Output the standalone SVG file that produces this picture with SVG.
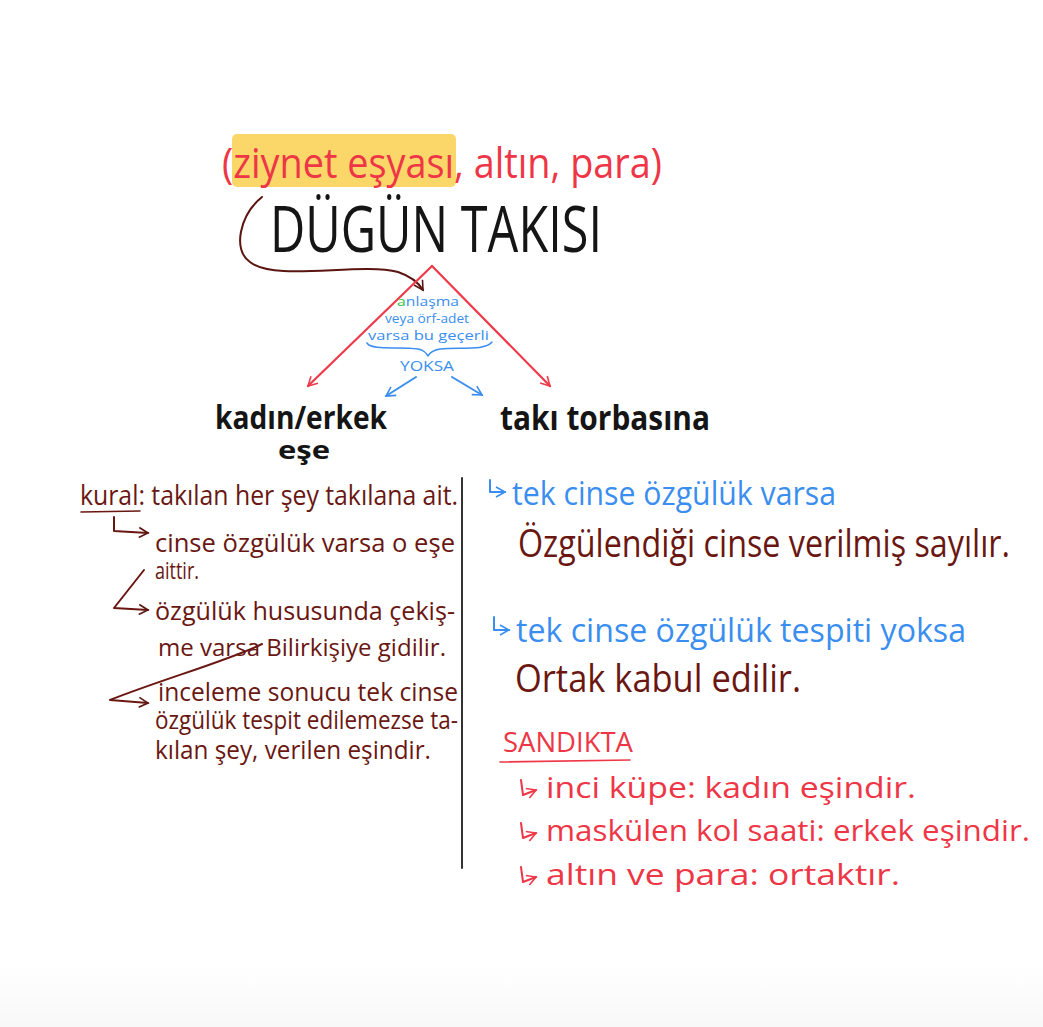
<svg xmlns="http://www.w3.org/2000/svg" width="1043" height="1027" viewBox="0 0 1043 1027">
<defs>
<linearGradient id="bg" x1="0" y1="0" x2="0" y2="1">
<stop offset="0" stop-color="#ffffff"/><stop offset="1" stop-color="#f8f8f8"/>
</linearGradient>
<marker id="ar" viewBox="0 0 12 12" refX="10" refY="6" markerWidth="12" markerHeight="12" markerUnits="userSpaceOnUse" orient="auto">
<path d="M1 1 L10 6 L1 11" fill="none" stroke="#ee3a4a" stroke-width="1.6"/>
</marker>
<marker id="ab" viewBox="0 0 12 12" refX="10" refY="6" markerWidth="12" markerHeight="12" markerUnits="userSpaceOnUse" orient="auto">
<path d="M1 1 L10 6 L1 11" fill="none" stroke="#3a8ef0" stroke-width="1.6"/>
</marker>
<marker id="ad" viewBox="0 0 12 12" refX="10" refY="6" markerWidth="12" markerHeight="12" markerUnits="userSpaceOnUse" orient="auto">
<path d="M1 1 L10 6 L1 11" fill="none" stroke="#5a1510" stroke-width="1.6"/>
</marker>
</defs>
<style>
text{font-family:"Open Sans","Liberation Sans",sans-serif;}
.red{fill:#ee3646;}
.blue{fill:#3a8ef0;}
.brown{fill:#6a1712;}
.black{fill:#151515;}
.bold{font-weight:700;}
.ln{fill:none;stroke-linecap:round;stroke-linejoin:round;}
</style>
<rect width="1043" height="1027" fill="#ffffff"/>
<rect y="965" width="1043" height="62" fill="url(#bg)"/>

<g id="title">
<rect x="232" y="134" width="224" height="53" rx="5" fill="#fbd35a" opacity="0.9"/>
<text class="red" x="222" y="178" font-size="42" textLength="440" lengthAdjust="spacingAndGlyphs">(ziynet eşyası, altın, para)</text>
<text class="black" x="270" y="252" font-size="64" textLength="332" lengthAdjust="spacingAndGlyphs">DÜGÜN TAKISI</text>
</g>

<g id="connectors">
<path class="ln" d="M262 197 C240 215 232 250 250 262 C275 282 360 262 398 272 C410 276 418 282 423 290" stroke="#5a1510" stroke-width="2" marker-end="url(#ad)"/>
<path class="ln" d="M432 266 L308 386" stroke="#ee3a4a" stroke-width="2.2" marker-end="url(#ar)"/>
<path class="ln" d="M432 266 L550 386" stroke="#ee3a4a" stroke-width="2.2" marker-end="url(#ar)"/>
<path class="ln" d="M416 377 L386 396" stroke="#3a8ef0" stroke-width="2" marker-end="url(#ab)"/>
<path class="ln" d="M452 377 L482 395" stroke="#3a8ef0" stroke-width="2" marker-end="url(#ab)"/>
<path class="ln" d="M367 343 C372 351 400 346 418 349 C424 350 426 353 428 356 C430 352 434 350 440 349 C460 347 485 351 492 342" stroke="#3a8ef0" stroke-width="1.5"/>
<path class="ln" d="M462 478 L462 868" stroke="#333333" stroke-width="2"/>
<path class="ln" d="M81 512 L140 511" stroke="#6a1712" stroke-width="1.6"/>
<path class="ln" d="M114 517 L114 531 L148 533" stroke="#6a1712" stroke-width="2" marker-end="url(#ad)"/>
<path class="ln" d="M144 570 L114 608 L148 610" stroke="#6a1712" stroke-width="2" marker-end="url(#ad)"/>
<path class="ln" d="M262 644 C230 660 160 680 110 700 L148 703" stroke="#6a1712" stroke-width="2" marker-end="url(#ad)"/>
<path class="ln" d="M490 480 L490 492 L505 492" stroke="#3a8ef0" stroke-width="2" marker-end="url(#ab)"/>
<path class="ln" d="M494 617 L494 630 L509 630" stroke="#3a8ef0" stroke-width="2" marker-end="url(#ab)"/>
<path class="ln" d="M500 762 L630 760" stroke="#ee3646" stroke-width="1.6"/>
<path class="ln" d="M521 780 L523 795 L536 790" stroke="#ee3646" stroke-width="2" marker-end="url(#ar)"/>
<path class="ln" d="M521 823 L523 838 L536 833" stroke="#ee3646" stroke-width="2" marker-end="url(#ar)"/>
<path class="ln" d="M521 867 L523 882 L536 877" stroke="#ee3646" stroke-width="2" marker-end="url(#ar)"/>
</g>

<g id="middle-note">
<text class="blue" x="397" y="306" font-size="13" textLength="62" lengthAdjust="spacingAndGlyphs"><tspan fill="#2ec24a">a</tspan>nlaşma</text>
<text class="blue" x="385" y="323" font-size="13" textLength="84" lengthAdjust="spacingAndGlyphs">veya örf-adet</text>
<text class="blue" x="368" y="340" font-size="13" textLength="121" lengthAdjust="spacingAndGlyphs">varsa bu geçerli</text>
<text class="blue" x="400" y="371" font-size="15" textLength="54" lengthAdjust="spacingAndGlyphs">YOKSA</text>
</g>

<g id="node-kadin">
<text class="black bold" x="215" y="429" font-size="32" textLength="172" lengthAdjust="spacingAndGlyphs">kadın/erkek</text>
<text class="black bold" x="278" y="459" font-size="25" textLength="52" lengthAdjust="spacingAndGlyphs">eşe</text>
</g>

<g id="node-torba">
<text class="black bold" x="500" y="430" font-size="34" textLength="210" lengthAdjust="spacingAndGlyphs">takı torbasına</text>
</g>

<g id="left-rules">
<text class="brown" x="80" y="505" font-size="28" textLength="378" lengthAdjust="spacingAndGlyphs">kural: takılan her şey takılana ait.</text>
<text class="brown" x="155" y="552" font-size="26" textLength="300" lengthAdjust="spacingAndGlyphs">cinse özgülük varsa o eşe</text>
<text class="brown" x="155" y="579" font-size="24" textLength="44" lengthAdjust="spacingAndGlyphs">aittir.</text>
<text class="brown" x="155" y="620" font-size="26" textLength="300" lengthAdjust="spacingAndGlyphs">özgülük hususunda çekiş-</text>
<text class="brown" x="158" y="656" font-size="24" textLength="288" lengthAdjust="spacingAndGlyphs">me varsa Bilirkişiye gidilir.</text>
<text class="brown" x="158" y="701" font-size="25" textLength="300" lengthAdjust="spacingAndGlyphs">inceleme sonucu tek cinse</text>
<text class="brown" x="155" y="729" font-size="25" textLength="303" lengthAdjust="spacingAndGlyphs">özgülük tespit edilemezse ta-</text>
<text class="brown" x="155" y="759" font-size="26" textLength="276" lengthAdjust="spacingAndGlyphs">kılan şey, verilen eşindir.</text>
</g>

<g id="right-rules">
<text class="blue" x="512" y="505" font-size="32" textLength="324" lengthAdjust="spacingAndGlyphs">tek cinse özgülük varsa</text>
<text class="brown" x="518" y="557" font-size="38" textLength="492" lengthAdjust="spacingAndGlyphs">Özgülendiği cinse verilmiş sayılır.</text>
<text class="blue" x="516" y="642" font-size="32" textLength="450" lengthAdjust="spacingAndGlyphs">tek cinse özgülük tespiti yoksa</text>
<text class="brown" x="515" y="692" font-size="38" textLength="286" lengthAdjust="spacingAndGlyphs">Ortak kabul edilir.</text>
</g>

<g id="sandikta">
<text class="red" x="503" y="752" font-size="27" textLength="130" lengthAdjust="spacingAndGlyphs">SANDIKTA</text>
<text class="red" x="546" y="798" font-size="29" textLength="370" lengthAdjust="spacingAndGlyphs">inci küpe: kadın eşindir.</text>
<text class="red" x="546" y="841" font-size="29" textLength="484" lengthAdjust="spacingAndGlyphs">maskülen kol saati: erkek eşindir.</text>
<text class="red" x="546" y="885" font-size="29" textLength="354" lengthAdjust="spacingAndGlyphs">altın ve para: ortaktır.</text>
</g>
</svg>
